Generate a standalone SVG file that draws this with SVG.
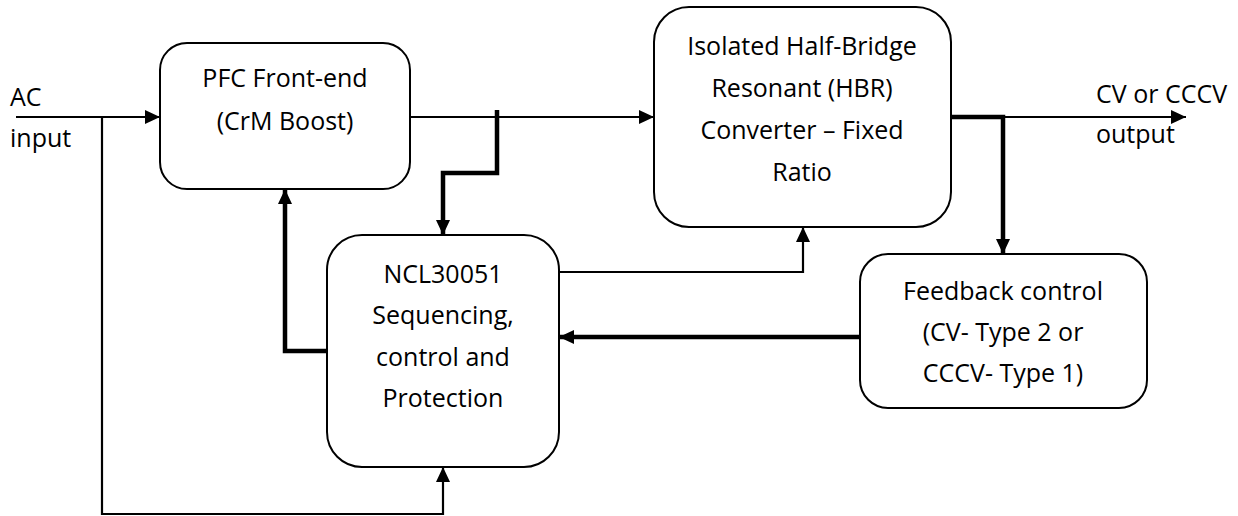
<svg xmlns="http://www.w3.org/2000/svg" width="1238" height="516" viewBox="0 0 1238 516">
<style>
.box{fill:#fff;stroke:#000;stroke-width:2}
.t{font-family:"Open Sans","Liberation Sans",sans-serif;font-size:25px;fill:#000;text-anchor:middle}
.tl{font-family:"Open Sans","Liberation Sans",sans-serif;font-size:25px;fill:#000}
.thin{fill:none;stroke:#000;stroke-width:2.2}
.thick{fill:none;stroke:#000;stroke-width:4.5}
</style>
<defs>
<marker id="ah" markerUnits="userSpaceOnUse" markerWidth="16" markerHeight="16" viewBox="0 0 16 16" refX="15" refY="8" orient="auto">
<path d="M0,1 L15,8 L0,15 Z" fill="#000"/>
</marker>
</defs>
<rect width="1238" height="516" fill="#fff"/>
<g id="connectors">
<path class="thin" d="M16,117 H160" marker-end="url(#ah)"/>
<path class="thin" d="M102,117 V514 H443 V467" marker-end="url(#ah)"/>
<path class="thin" d="M410,117 H654" marker-end="url(#ah)"/>
<path class="thick" d="M497,110 V173 H443 V235" marker-end="url(#ah)"/>
<path class="thin" d="M559,272 H803 V227" marker-end="url(#ah)"/>
<path class="thick" d="M327,351 H285 V189" marker-end="url(#ah)"/>
<path class="thick" d="M860,337 H559" marker-end="url(#ah)"/>
<path class="thick" d="M951,117 H1003 V254" marker-end="url(#ah)"/>
<path class="thin" d="M1003,117 H1186" marker-end="url(#ah)"/>
</g>
<g id="pfc">
<rect class="box" x="160" y="43" width="250" height="146" rx="27" ry="27"/>
<text class="t" x="285" y="87">PFC Front-end</text>
<text class="t" x="285" y="130">(CrM Boost)</text>
</g>
<g id="hbr">
<rect class="box" x="654" y="7" width="297" height="220" rx="35" ry="35"/>
<text class="t" x="802" y="55">Isolated Half-Bridge</text>
<text class="t" x="802" y="97">Resonant (HBR)</text>
<text class="t" x="802" y="139">Converter – Fixed</text>
<text class="t" x="802" y="181">Ratio</text>
</g>
<g id="ncl">
<rect class="box" x="327" y="235" width="232" height="232" rx="35" ry="35"/>
<text class="t" x="443" y="283">NCL30051</text>
<text class="t" x="443" y="324">Sequencing,</text>
<text class="t" x="443" y="366">control and</text>
<text class="t" x="443" y="407">Protection</text>
</g>
<g id="feedback">
<rect class="box" x="860" y="254" width="287" height="154" rx="28" ry="28"/>
<text class="t" x="1003" y="300">Feedback control</text>
<text class="t" x="1003" y="341">(CV- Type 2 or</text>
<text class="t" x="1003" y="382">CCCV- Type 1)</text>
</g>
<g id="labels">
<text class="tl" x="10" y="106">AC</text>
<text class="tl" x="10" y="147">input</text>
<text class="tl" x="1096" y="103">CV or CCCV</text>
<text class="tl" x="1096" y="143">output</text>
</g>
</svg>
